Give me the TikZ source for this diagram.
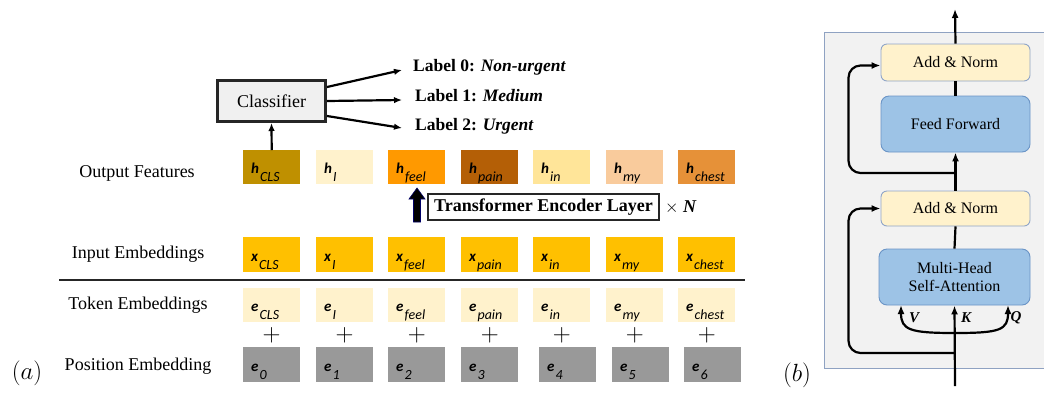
\documentclass[tikz,border=0pt]{standalone}
\usepackage{fontspec}
\setmainfont{Liberation Serif}
\newfontfamily\cf{Carlito}
\usetikzlibrary{arrows.meta,calc}
\definecolor{cH0}{HTML}{BF9000}
\definecolor{cH1}{HTML}{FFF2CC}
\definecolor{cH2}{HTML}{FF9900}
\definecolor{cH3}{HTML}{B45F06}
\definecolor{cH4}{HTML}{FFE599}
\definecolor{cH5}{HTML}{F9CB9C}
\definecolor{cH6}{HTML}{E69138}
\definecolor{cIn}{HTML}{FFC000}
\definecolor{cTok}{HTML}{FFF2CC}
\definecolor{cPos}{HTML}{999999}
\definecolor{panelfill}{HTML}{F2F2F2}
\definecolor{panelline}{HTML}{8FA2C2}
\definecolor{anfill}{HTML}{FFF2CC}
\definecolor{anline}{HTML}{8FA5C8}
\definecolor{fffill}{HTML}{9DC3E6}
\definecolor{ffline}{HTML}{6A94C6}
\tikzset{
  cellbox/.style={anchor=north west, minimum width=57pt, minimum height=34pt, inner sep=0, draw=none},
  celltext/.style={anchor=base west, inner sep=0},
  rowlab/.style={font=\fontsize{18}{20}\selectfont, inner sep=0},
  arr/.style={-{Latex[length=9pt,width=7pt]}, line width=2.2pt},
  larr/.style={-{Latex[length=8pt,width=6.5pt]}, line width=2.2pt},
  lab/.style={anchor=west, inner sep=0, font=\fontsize{17.5}{20}\selectfont\bfseries},
  anbox/.style={draw=anline, fill=anfill, rounded corners=6pt, line width=0.9pt, minimum width=149pt, font=\fontsize{16}{18.5}\selectfont, align=center},
  ffbox/.style={draw=ffline, fill=fffill, rounded corners=8pt, line width=0.9pt, minimum width=149pt, font=\fontsize{16}{18.5}\selectfont, align=center},
  qkv/.style={inner sep=0, font=\fontsize{15}{17}\selectfont\bfseries\itshape},
}
\newcommand\celltxt[2]{{\cf\fontsize{15}{17}\selectfont\bfseries\itshape #1}\hspace{1pt}\raisebox{-8pt}{\cf\fontsize{14}{16}\selectfont\itshape #2}}
\begin{document}
\begin{tikzpicture}[x=1pt,y=-1pt]
\useasboundingbox (0,0) rectangle (1044,392);
% ---------- (a) ----------
% output features
\foreach \i/\l/\c/\s in {0/243/cH0/CLS,1/316/cH1/I,2/388/cH2/feel,3/461/cH3/pain,4/533/cH4/in,5/606/cH5/my,6/678/cH6/chest}{
  \node[cellbox, fill=\c] (h\i) at (\l,150) {};
  \node[celltext] (ht\i) at ([xshift=8pt,yshift=11pt]h\i.south west) {\celltxt{h}{\s}};
}
% input embeddings
\foreach \i/\l/\s in {0/243/CLS,1/316/I,2/388/feel,3/461/pain,4/533/in,5/606/my,6/678/chest}{
  \node[cellbox, fill=cIn, minimum height=35pt] (x\i) at (\l,237) {};
  \node[celltext] (xt\i) at ([xshift=8pt,yshift=11pt]x\i.south west) {\celltxt{x}{\s}};
}
% token embeddings
\foreach \i/\l/\s in {0/243/CLS,1/316/I,2/388/feel,3/461/pain,4/533/in,5/606/my,6/678/chest}{
  \node[cellbox, fill=cTok] (t\i) at (\l,288) {};
  \node[celltext] (tt\i) at ([xshift=8pt,yshift=11pt]t\i.south west) {\celltxt{e}{\s}};
  \node[inner sep=0, font=\fontsize{28}{28}\selectfont] (plus\i) at ($(t\i.south)+(0,13)$) {$+$};
}
% position embeddings
\foreach \i/\l in {0/243,1/316,2/388,3/461,4/539,5/612,6/684}{
  \node[cellbox, fill=cPos, minimum height=35pt] (p\i) at (\l,347) {};
  \node[celltext] (pt\i) at ([xshift=8pt,yshift=11pt]p\i.south west) {\celltxt{e}{\i}};
}
% row labels
\node[rowlab] (lOut) at (137,173) {Output Features};
\node[rowlab] (lIn) at (138,254) {Input Embeddings};
\node[rowlab] (lTok) at (138,305) {Token Embeddings};
\node[rowlab] (lPos) at (138,366) {Position Embedding};
% separator line
\coordinate (sepL) at (59,280);
\coordinate (sepR) at (745,280);
\draw[line width=1.8pt, draw=black!85] (sepL) -- (sepR);
% classifier
\node[draw=black!85, fill=black!6, line width=3pt, minimum width=108pt, minimum height=41pt, inner sep=0, font=\fontsize{18}{20}\selectfont] (cls) at (271.5,101) {Classifier};
\draw[larr] (h0.north) -- (cls.south);
\coordinate (e0) at (402,70);
\coordinate (e1) at (402,100);
\coordinate (e2) at (402,128);
\draw[larr] ([yshift=14pt]cls.east) -- (e0);
\draw[larr] (cls.east) -- (e1);
\draw[larr] ([yshift=-15pt]cls.east) -- (e2);
\node[lab] (lab0) at (413,67) {Label 0: \textit{Non-urgent}};
\node[lab] (lab1) at (415,96) {Label 1: \textit{Medium}};
\node[lab] (lab2) at (415,126) {Label 2: \textit{Urgent}};
% transformer encoder
\node[draw=black!85, line width=1.6pt, minimum width=231pt, minimum height=26pt, inner sep=0, font=\fontsize{18}{20}\selectfont\bfseries] (te) at (543.5,207) {Transformer Encoder Layer};
\node[anchor=west, inner sep=0, font=\fontsize{18}{20}\selectfont] (times) at (665,207) {$\times$ \textbf{\textit{N}}};
\draw[fill=black, draw=black!60!blue, line width=0.6pt] (413.5,222) -- (413.5,199) -- (409,199) -- (417,188) -- (425,199) -- (420.5,199) -- (420.5,222) -- cycle;
\node[inner sep=0, font=\fontsize{30}{32}\selectfont] (tagA) at (27,373) {$(a)$};
% ---------- (b) ----------
\fill[panelfill] (824,32) rectangle (1050,368);
\draw[panelline, line width=1pt] (1050,32) -- (824,32) -- (824,368) -- (1050,368);
\node[anbox, minimum height=37pt] (an2) at (955.5,62.5) {Add \& Norm};
\node[ffbox, minimum height=56pt] (ff) at (955.5,124) {Feed Forward};
\node[anbox, minimum height=35pt] (an1) at (955.5,208.5) {Add \& Norm};
\node[ffbox, minimum height=56pt, minimum width=151pt] (mha) at (954.5,277) {Multi-Head\\Self-Attention};
\coordinate (inp) at (955,386);
\coordinate (res2) at (955,353);
\coordinate (split) at (955,333);
\coordinate (res1) at (955,173);
\coordinate (top) at (955,9);
\draw[arr] (inp) -- (mha.south);
\draw[arr] (split) .. controls (910,333) and (901,330) .. (901,305);
\draw[arr] (split) .. controls (1000,333) and (1008,330) .. (1008,305);
\draw[line width=2.2pt] (mha.north) -- (an1.south);
\draw[arr] (an1.north) -- (ff.south);
\draw[line width=2.2pt] (ff.north) -- (an2.south);
\draw[arr] (an2.north) -- (top);
\draw[arr, rounded corners=12pt] (res2) -| ([xshift=-32pt]an1.west) -- (an1.west);
\draw[arr, rounded corners=12pt] (res1) -| ([xshift=-32pt,yshift=-3pt]an2.west) -- ([yshift=-3pt]an2.west);
\node[qkv] (vlab) at (914,318) {V};
\node[qkv] (klab) at (966,318) {K};
\node[qkv] (qlab) at (1016,318) {Q};
\node[inner sep=0, font=\fontsize{30}{32}\selectfont] (tagB) at (797,375) {$(b)$};
\end{tikzpicture}
\end{document}
